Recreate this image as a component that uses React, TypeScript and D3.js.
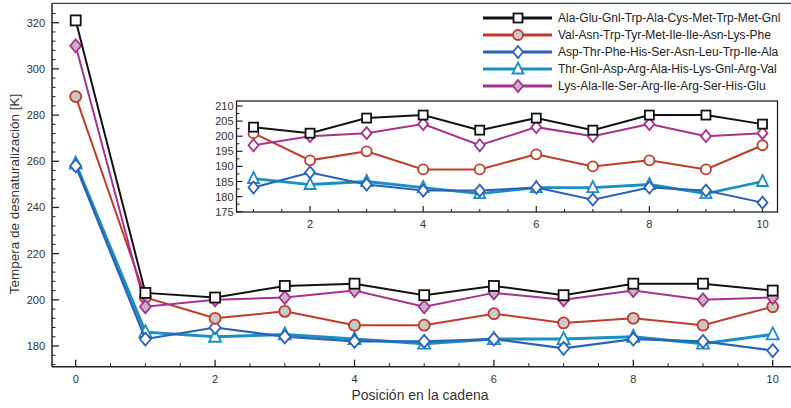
import React from "react";
import * as d3 from "d3";

const positions = [0, 1, 2, 3, 4, 5, 6, 7, 8, 9, 10];
const ala = [321, 203, 201, 206, 207, 202, 206, 202, 207, 207, 204];
const val = [288, 201, 192, 195, 189, 189, 194, 190, 192, 189, 197];
const asp = [258, 183, 188, 184, 182, 182, 183, 179, 183, 182, 178];
const thr = [259, 186, 184, 185, 183, 181, 183, 183, 184, 181, 185];
const lys = [310, 197, 200, 201, 204, 197, 203, 200, 204, 200, 201];

const seriesNames = [
  "Ala-Glu-Gnl-Trp-Ala-Cys-Met-Trp-Met-Gnl",
  "Val-Asn-Trp-Tyr-Met-Ile-Ile-Asn-Lys-Phe",
  "Asp-Thr-Phe-His-Ser-Asn-Leu-Trp-Ile-Ala",
  "Thr-Gnl-Asp-Arg-Ala-His-Lys-Gnl-Arg-Val",
  "Lys-Ala-Ile-Ser-Arg-Ile-Arg-Ser-His-Glu",
];

const mainXTicks = [0, 2, 4, 6, 8, 10];
const mainYTicks = [180, 200, 220, 240, 260, 280, 300, 320];
const insetXTicks = [2, 4, 6, 8, 10];
const insetYTicks = [175, 180, 185, 190, 195, 200, 205, 210];

const xTitle = "Posición en la cadena";
const yTitle = "Tempera de desnaturalización [K]";

type Series = {
  name: string;
  values: number[];
  color: string;
  marker: "square" | "circle" | "diamond" | "triangle";
  mainFill: string;
  width: number;
};

const series: Series[] = [
  { name: seriesNames[0], values: ala, color: "#111111", marker: "square", mainFill: "#ffffff", width: 2 },
  { name: seriesNames[1], values: val, color: "#c23a2c", marker: "circle", mainFill: "#c9c9c9", width: 2 },
  { name: seriesNames[2], values: asp, color: "#2a62b8", marker: "diamond", mainFill: "#ffffff", width: 2.2 },
  { name: seriesNames[3], values: thr, color: "#1b8fc4", marker: "triangle", mainFill: "#ffffff", width: 3 },
  { name: seriesNames[4], values: lys, color: "#a8308e", marker: "diamond", mainFill: "#c9b0c4", width: 2 },
];

const FONT = "'Liberation Sans', Arial, Helvetica, sans-serif";

function Marker({ type, x, y, color, fill, s }: { type: string; x: number; y: number; color: string; fill: string; s: number }) {
  const sw = 1.8;
  if (type === "square") {
    return <rect x={x - s / 2} y={y - s / 2} width={s} height={s} fill={fill} stroke={color} strokeWidth={sw} />;
  }
  if (type === "circle") {
    return <circle cx={x} cy={y} r={s / 2 + 0.5} fill={fill} stroke={color} strokeWidth={sw} />;
  }
  if (type === "diamond") {
    const h = s / 2 + 1.5;
    const w = s / 2 + 0.5;
    return <path d={`M${x},${y - h}L${x + w},${y}L${x},${y + h}L${x - w},${y}Z`} fill={fill} stroke={color} strokeWidth={sw} />;
  }
  const h = s / 2 + 1;
  return <path d={`M${x},${y - h - 1}L${x + h},${y + h - 1}L${x - h},${y + h - 1}Z`} fill={fill} stroke={color} strokeWidth={sw} />;
}

export default function App() {
  const W = 791;
  const H = 408;

  const x = d3.scaleLinear().domain([0, 10]).range([75.7, 772.7]);
  const y = d3.scaleLinear().domain([180, 320]).range([346, 22.7]);
  const mainLeft = 52;
  const mainBottom = 366.7;
  const mainTop = 3.3;

  const ix = d3.scaleLinear().domain([1, 10]).range([253.5, 762.5]);
  const iy = d3.scaleLinear().domain([175, 210]).range([211.7, 106]);
  const inL = 236.5, inR = 777.5, inT = 101, inB = 212;

  const line = d3.line<number>().x((_, i) => x(positions[i])).y((d) => y(d));
  const insetLine = d3
    .line<number>()
    .x((_, i) => ix(positions[i + 1]))
    .y((d) => iy(d));

  const mainMinorX = d3.range(0, 10.01, 0.5).filter((v) => !mainXTicks.includes(v));
  const mainMinorY = d3.range(172, 328, 4).filter((v) => !mainYTicks.includes(v));
  const insetMinorX = d3.range(1, 10.01, 0.5).filter((v) => !insetXTicks.includes(v));
  const insetMinorY = d3.range(175, 211, 2.5).filter((v) => !insetYTicks.includes(v));

  const drawOrder = [3, 2, 1, 4, 0];

  return (
    <svg width={W} height={H} style={{ position: "absolute", left: 0, top: 0, background: "#fff" }} fontFamily={FONT}>
      <rect width={W} height={H} fill="#ffffff" />
      <line x1={mainLeft} x2={W} y1={mainTop} y2={mainTop} stroke="#2f4a35" strokeWidth={1.2} />
      <line x1={mainLeft} x2={mainLeft} y1={mainTop} y2={mainBottom} stroke="#222" strokeWidth={1.5} />
      <line x1={mainLeft} x2={W} y1={mainBottom} y2={mainBottom} stroke="#222" strokeWidth={1.5} />

      {mainXTicks.map((t) => (
        <g key={"mx" + t}>
          <line x1={x(t)} x2={x(t)} y1={mainBottom} y2={mainBottom - 7} stroke="#222" strokeWidth={1.3} />
          <text x={x(t)} y={mainBottom + 16} textAnchor="middle" fontSize={11} fill="#333">{t}</text>
        </g>
      ))}
      {mainMinorX.map((t) => (
        <line key={"mmx" + t} x1={x(t)} x2={x(t)} y1={mainBottom} y2={mainBottom - 3.5} stroke="#222" strokeWidth={1} />
      ))}
      {mainYTicks.map((t) => (
        <g key={"my" + t}>
          <line x1={mainLeft} x2={mainLeft + 7} y1={y(t)} y2={y(t)} stroke="#222" strokeWidth={1.3} />
          <text x={mainLeft - 7} y={y(t) + 4} textAnchor="end" fontSize={11} fill="#333">{t}</text>
        </g>
      ))}
      {mainMinorY.map((t) => (
        <line key={"mmy" + t} x1={mainLeft} x2={mainLeft + 3.5} y1={y(t)} y2={y(t)} stroke="#222" strokeWidth={1} />
      ))}

      <text x={420} y={400} textAnchor="middle" fontSize={14} fill="#333">{xTitle}</text>
      <text transform={`translate(19,194) rotate(-90)`} textAnchor="middle" fontSize={13.5} fill="#333">{yTitle}</text>

      {drawOrder.map((k) => {
        const s = series[k];
        return (
          <g key={"ms" + k}>
            <path d={line(s.values) || ""} fill="none" stroke={s.color} strokeWidth={s.width} />
            {s.values.map((v, i) => (
              <Marker key={i} type={s.marker} x={x(positions[i])} y={y(v)} color={s.color} fill={s.mainFill} s={10} />
            ))}
          </g>
        );
      })}

      <rect x={inL} y={inT} width={inR - inL} height={inB - inT} fill="#ffffff" stroke="#222" strokeWidth={1.3} />
      {insetXTicks.map((t) => (
        <g key={"ix" + t}>
          <line x1={ix(t)} x2={ix(t)} y1={inB} y2={inB - 6} stroke="#222" strokeWidth={1.2} />
          <text x={ix(t)} y={inB + 16} textAnchor="middle" fontSize={11} fill="#333">{t}</text>
        </g>
      ))}
      {insetMinorX.map((t) => (
        <line key={"imx" + t} x1={ix(t)} x2={ix(t)} y1={inB} y2={inB - 3} stroke="#222" strokeWidth={1} />
      ))}
      {insetYTicks.map((t) => (
        <g key={"iy" + t}>
          <line x1={inL} x2={inL + 6} y1={iy(t)} y2={iy(t)} stroke="#222" strokeWidth={1.2} />
          <text x={inL - 3} y={iy(t) + 4} textAnchor="end" fontSize={11} fill="#333">{t}</text>
        </g>
      ))}
      {insetMinorY.map((t) => (
        <line key={"imy" + t} x1={inL} x2={inL + 3} y1={iy(t)} y2={iy(t)} stroke="#222" strokeWidth={1} />
      ))}
      {drawOrder.map((k) => {
        const s = series[k];
        const vals = s.values.slice(1);
        return (
          <g key={"is" + k}>
            <path d={insetLine(vals) || ""} fill="none" stroke={s.color} strokeWidth={k === 3 ? 2.8 : 2} />
            {vals.map((v, i) => (
              <Marker key={i} type={s.marker} x={ix(positions[i + 1])} y={iy(v)} color={s.color} fill="#ffffff" s={9} />
            ))}
          </g>
        );
      })}

      <rect x={476} y={6} width={314} height={90} fill="#ffffff" />
      {series.map((s, i) => {
        const ly = 18 + i * 17;
        return (
          <g key={"lg" + i}>
            <line x1={483} x2={552} y1={ly} y2={ly} stroke={s.color} strokeWidth={3} />
            <Marker type={s.marker} x={518} y={ly} color={s.color} fill={s.mainFill} s={9} />
            <text x={558} y={ly + 4} fontSize={12} fill="#222">{s.name}</text>
          </g>
        );
      })}
    </svg>
  );
}
